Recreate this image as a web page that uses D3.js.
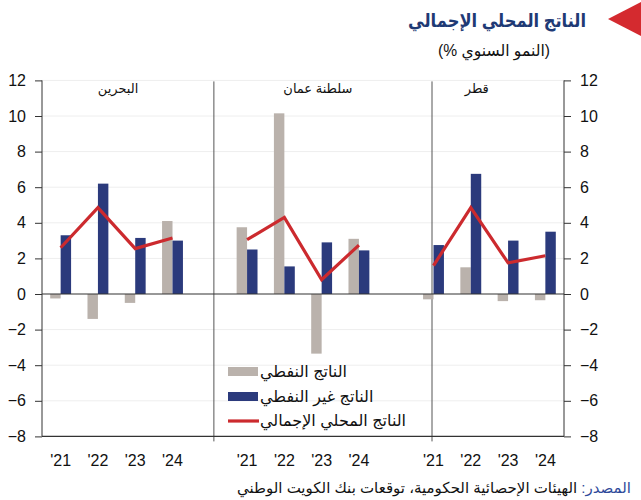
<!DOCTYPE html>
<html lang="ar">
<head>
<meta charset="UTF-8">
<title>الناتج المحلي الإجمالي</title>
<style>
    body { margin: 0; background: #fff; }
    svg { display: block; font-family: "Liberation Sans", Arial, "DejaVu Sans", sans-serif; }
</style>
</head>
<body>
<div id="chart"></div>
<script src="https://d3js.org/d3.v7.min.js"></script>
<script>
    // Data
    const years = ["'21", "'22", "'23", "'24"];
    const countries = ["البحرين", "سلطنة عمان", "قطر"];
    const oilGdp = [
        [-0.25, -1.4, -0.5, 4.1],
        [3.75, 10.15, -3.35, 3.1],
        [-0.3, 1.5, -0.4, -0.35]
    ];
    const nonOilGdp = [
        [3.3, 6.2, 3.15, 3.0],
        [2.5, 1.55, 2.9, 2.45],
        [2.75, 6.75, 3.0, 3.5]
    ];
    const totalGdp = [
        [2.6, 4.85, 2.55, 3.15],
        [3.05, 4.3, 0.8, 2.75],
        [1.6, 4.85, 1.75, 2.15]
    ];
    const yTicks = [-8, -6, -4, -2, 0, 2, 4, 6, 8, 10, 12];
    const legendLabels = ["الناتج النفطي", "الناتج غير النفطي", "الناتج المحلي الإجمالي"];

    const width = 641, height = 500;
    const plotLeft = 42, plotRight = 564, plotTop = 80.4, plotBottom = 436.4;
    const colors = { oil: "#bab2ac", nonOil: "#2b3a7c", gdp: "#cc2a2e", title: "#1f3a75" };

    const svg = d3.select("#chart").append("svg")
        .attr("width", width)
        .attr("height", height);

    // 14 slots: 4 years per country with an empty slot between countries
    const slots = [];
    countries.forEach((c, i) => {
        if (i > 0) slots.push("gap" + i);
        years.forEach(yr => slots.push(c + yr));
    });

    const x = d3.scaleBand().domain(slots).range([plotLeft, plotRight]).padding(0);
    const slotX = d3.scaleLinear().domain([0, slots.length]).range([plotLeft, plotRight]);
    const y = d3.scaleLinear().domain([-8, 12]).range([plotBottom, plotTop]);
    const cx = key => x(key) + x.bandwidth() / 2;
    const barW = x.bandwidth() * 0.28;

    // grid lines
    svg.append("g").selectAll("line")
        .data(yTicks.filter(d => d !== 0 && d !== -8))
        .join("line")
        .attr("x1", plotLeft).attr("x2", plotRight)
        .attr("y1", d => y(d)).attr("y2", d => y(d))
        .attr("stroke", "#eeeeee").attr("stroke-width", 1);

    // axes
    const yLeft = d3.axisLeft(y).tickValues(yTicks).tickSize(7).tickPadding(9);
    const yRight = d3.axisRight(y).tickValues(yTicks).tickSize(7).tickPadding(9);
    [[yLeft, plotLeft], [yRight, plotRight]].forEach(([ax, pos]) => {
        const g = svg.append("g")
            .attr("transform", `translate(${pos},0)`)
            .call(ax);
        g.select(".domain").attr("stroke", "#333").attr("d", `M0,${plotTop}V${plotBottom}`);
        g.selectAll(".tick line").attr("stroke", "#333");
        g.selectAll(".tick text")
            .attr("font-size", 16)
            .attr("fill", "#111")
            .attr("font-family", "Liberation Sans, Arial, sans-serif");
    });

    // panel dividers
    svg.append("g").selectAll("line")
        .data([4.61, 10.46])
        .join("line")
        .attr("x1", d => slotX(d)).attr("x2", d => slotX(d))
        .attr("y1", plotTop + 1).attr("y2", plotBottom + 5)
        .attr("stroke", "#555").attr("stroke-width", 1);

    // bars
    const barData = [];
    countries.forEach((c, i) => {
        years.forEach((yr, j) => {
            barData.push({ key: c + yr, type: "oil", v: oilGdp[i][j] });
            barData.push({ key: c + yr, type: "nonOil", v: nonOilGdp[i][j] });
        });
    });

    svg.append("g").selectAll("rect")
        .data(barData)
        .join("rect")
        .attr("x", d => d.type === "oil" ? cx(d.key) - barW : cx(d.key))
        .attr("y", d => y(Math.max(0, d.v)))
        .attr("width", barW)
        .attr("height", d => Math.abs(y(d.v) - y(0)))
        .attr("fill", d => colors[d.type]);

    // zero line and bottom line
    svg.append("line")
        .attr("x1", plotLeft).attr("x2", plotRight)
        .attr("y1", y(0)).attr("y2", y(0))
        .attr("stroke", "#333").attr("stroke-width", 1.2);
    svg.append("line")
        .attr("x1", plotLeft).attr("x2", plotRight)
        .attr("y1", y(-8)).attr("y2", y(-8))
        .attr("stroke", "#333").attr("stroke-width", 1.2);

    // GDP lines
    const line = d3.line().x(d => cx(d.key)).y(d => y(d.v));
    countries.forEach((c, i) => {
        svg.append("path")
            .datum(years.map((yr, j) => ({ key: c + yr, v: totalGdp[i][j] })))
            .attr("d", line)
            .attr("fill", "none")
            .attr("stroke", colors.gdp)
            .attr("stroke-width", 3.2)
            .attr("stroke-linejoin", "miter");
    });

    // x labels
    svg.append("g").selectAll("text")
        .data(countries.flatMap(c => years.map(yr => ({ key: c + yr, label: yr }))))
        .join("text")
        .attr("x", d => cx(d.key))
        .attr("y", 466)
        .attr("text-anchor", "middle")
        .attr("font-size", 16)
        .attr("fill", "#111")
        .text(d => d.label);

    // panel titles
    svg.append("g").selectAll("text")
        .data(countries)
        .join("text")
        .attr("x", (d, i) => slotX([2.04, 7.4, 11.66][i]))
        .attr("y", 93)
        .attr("text-anchor", "middle")
        .attr("font-size", 13)
        .attr("fill", "#111")
        .text(d => d);

    // legend
    const legend = svg.append("g").attr("transform", "translate(228,0)");
    const legendY = [371.5, 396.5, 421];
    legend.append("rect").attr("x", 0).attr("y", legendY[0] - 4.5).attr("width", 30).attr("height", 9).attr("fill", colors.oil);
    legend.append("rect").attr("x", 0).attr("y", legendY[1] - 4.5).attr("width", 30).attr("height", 9).attr("fill", colors.nonOil);
    legend.append("line").attr("x1", 0).attr("x2", 31).attr("y1", legendY[2]).attr("y2", legendY[2])
        .attr("stroke", colors.gdp).attr("stroke-width", 3.2);
    legend.selectAll("text")
        .data(legendLabels)
        .join("text")
        .attr("x", 32)
        .attr("y", (d, i) => legendY[i] + 5)
        .attr("font-size", 16)
        .attr("fill", "#111")
        .text(d => d);

    // title block
    svg.append("polygon")
        .attr("points", "608,19 645,0 645,38")
        .attr("fill", "#d42a2f");
    svg.append("text")
        .attr("x", 586).attr("y", 27)
        .attr("text-anchor", "end")
        .attr("font-size", 19)
        .attr("font-weight", "bold")
        .attr("fill", colors.title)
        .attr("textLength", 178)
        .attr("lengthAdjust", "spacingAndGlyphs")
        .text("الناتج المحلي الإجمالي");
    svg.append("text")
        .attr("x", 550).attr("y", 56)
        .attr("text-anchor", "end")
        .attr("font-size", 16)
        .attr("fill", "#111")
        .attr("textLength", 112)
        .attr("lengthAdjust", "spacingAndGlyphs")
        .text("(% النمو السنوي)");

    // source
    const src = svg.append("text")
        .attr("x", 631).attr("y", 493)
        .attr("text-anchor", "end")
        .attr("font-size", 15)
        .attr("fill", "#111");
    src.append("tspan").attr("fill", "#2f4a9a").text("المصدر: ");
    src.append("tspan").text("الهيئات الإحصائية الحكومية، توقعات بنك الكويت الوطني");
</script>
</body>
</html>
